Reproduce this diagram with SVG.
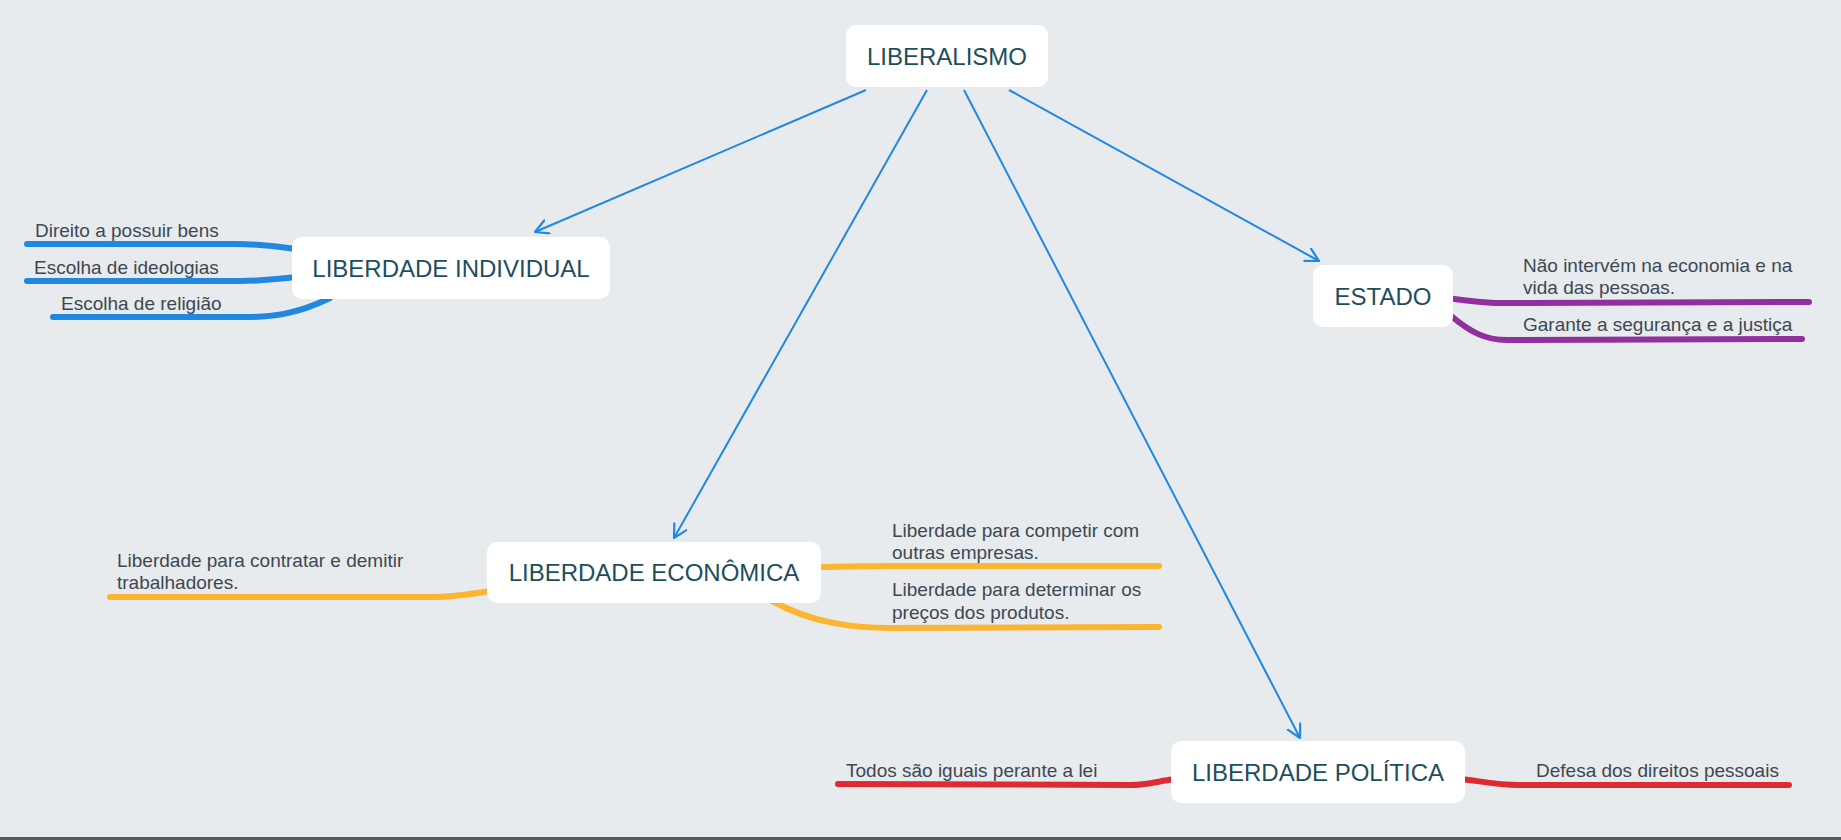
<svg xmlns="http://www.w3.org/2000/svg" width="1841" height="840" viewBox="0 0 1841 840">
<defs>
<style>
.bg{fill:#e7ebee}
.box{fill:#ffffff}
.title{font-family:"Liberation Sans",Arial,sans-serif;font-size:24px;fill:#1d4e5e;text-anchor:middle}
.lbl{font-family:"Liberation Sans",Arial,sans-serif;font-size:19px;fill:#3d4852}
.arrow{fill:none;stroke:#2188e0;stroke-width:2}
.br{fill:none;stroke-width:6;stroke-linecap:round}
.blue{stroke:#2188e0}
.purple{stroke:#922f9f}
.yellow{stroke:#fbb531}
.red{stroke:#df2a33}
</style>
<marker id="ah" markerUnits="userSpaceOnUse" markerWidth="18" markerHeight="18" refX="14" refY="8" orient="auto">
<path d="M1,1 L14,8 L1,15" fill="none" stroke="#2188e0" stroke-width="2.2" stroke-linecap="round" stroke-linejoin="round"/>
</marker>
</defs>
<rect class="bg" x="0" y="0" width="1841" height="840"/>
<rect x="0" y="837" width="1841" height="3" fill="#555a5e"/>
<g id="connectors">
<line class="arrow" x1="866" y1="90" x2="535" y2="232" marker-end="url(#ah)"/>
<line class="arrow" x1="927" y1="90" x2="674" y2="538" marker-end="url(#ah)"/>
<line class="arrow" x1="964" y1="90" x2="1300" y2="738" marker-end="url(#ah)"/>
<line class="arrow" x1="1009" y1="90" x2="1319" y2="261" marker-end="url(#ah)"/>
<path class="br blue" d="M296,249 C270,245 255,244 235,244 L27,244"/>
<path class="br blue" d="M296,277 C270,280 255,281 240,281 L27,281"/>
<path class="br blue" d="M330,298 C295,315 270,317 246,317 L53,317"/>
<path class="br purple" d="M1448,298 C1475,302 1490,303 1501,303 L1809,302"/>
<path class="br purple" d="M1450,315 C1470,332 1485,340 1507,340 L1802,339"/>
<path class="br yellow" d="M490,591 C465,595 450,597 434,597 L110,597"/>
<path class="br yellow" d="M818,567 C840,567 860,566 890,566 L1159,566"/>
<path class="br yellow" d="M772,601 C810,622 850,628 892,628 L1159,627"/>
<path class="br red" d="M1174,779 C1155,782 1145,785 1131,785 L838,784"/>
<path class="br red" d="M1462,779 C1485,782 1500,785 1519,785 L1789,785"/>
</g>
<g id="node-liberalismo">
<rect class="box" x="846" y="25" width="202" height="62" rx="10"/>
<text class="title" x="947" y="64.5">LIBERALISMO</text>
</g>
<g id="node-liberdade-individual">
<rect class="box" x="292" y="237" width="318" height="62" rx="10"/>
<text class="title" x="451" y="276.5">LIBERDADE INDIVIDUAL</text>
</g>
<g id="node-estado">
<rect class="box" x="1313" y="265" width="140" height="62" rx="10"/>
<text class="title" x="1383" y="304.5">ESTADO</text>
</g>
<g id="node-liberdade-economica">
<rect class="box" x="487" y="542" width="334" height="61" rx="10"/>
<text class="title" x="654" y="581">LIBERDADE ECONÔMICA</text>
</g>
<g id="node-liberdade-politica">
<rect class="box" x="1171" y="741" width="294" height="62" rx="10"/>
<text class="title" x="1318" y="780.5">LIBERDADE POLÍTICA</text>
</g>
<g id="sub-direito">
<text class="lbl" x="35" y="237">Direito a possuir bens</text>
</g>
<g id="sub-ideologias">
<text class="lbl" x="34" y="274">Escolha de ideologias</text>
</g>
<g id="sub-religiao">
<text class="lbl" x="61" y="310">Escolha de religião</text>
</g>
<g id="sub-nao-intervem">
<text class="lbl" x="1523" y="272">Não intervém na economia e na</text>
<text class="lbl" x="1523" y="294">vida das pessoas.</text>
</g>
<g id="sub-seguranca">
<text class="lbl" x="1523" y="331">Garante a segurança e a justiça</text>
</g>
<g id="sub-contratar">
<text class="lbl" x="117" y="567">Liberdade para contratar e demitir</text>
<text class="lbl" x="117" y="589">trabalhadores.</text>
</g>
<g id="sub-competir">
<text class="lbl" x="892" y="537">Liberdade para competir com</text>
<text class="lbl" x="892" y="559">outras empresas.</text>
</g>
<g id="sub-precos">
<text class="lbl" x="892" y="596">Liberdade para determinar os</text>
<text class="lbl" x="892" y="619">preços dos produtos.</text>
</g>
<g id="sub-iguais">
<text class="lbl" x="846" y="777">Todos são iguais perante a lei</text>
</g>
<g id="sub-defesa">
<text class="lbl" x="1536" y="777">Defesa dos direitos pessoais</text>
</g>
</svg>
